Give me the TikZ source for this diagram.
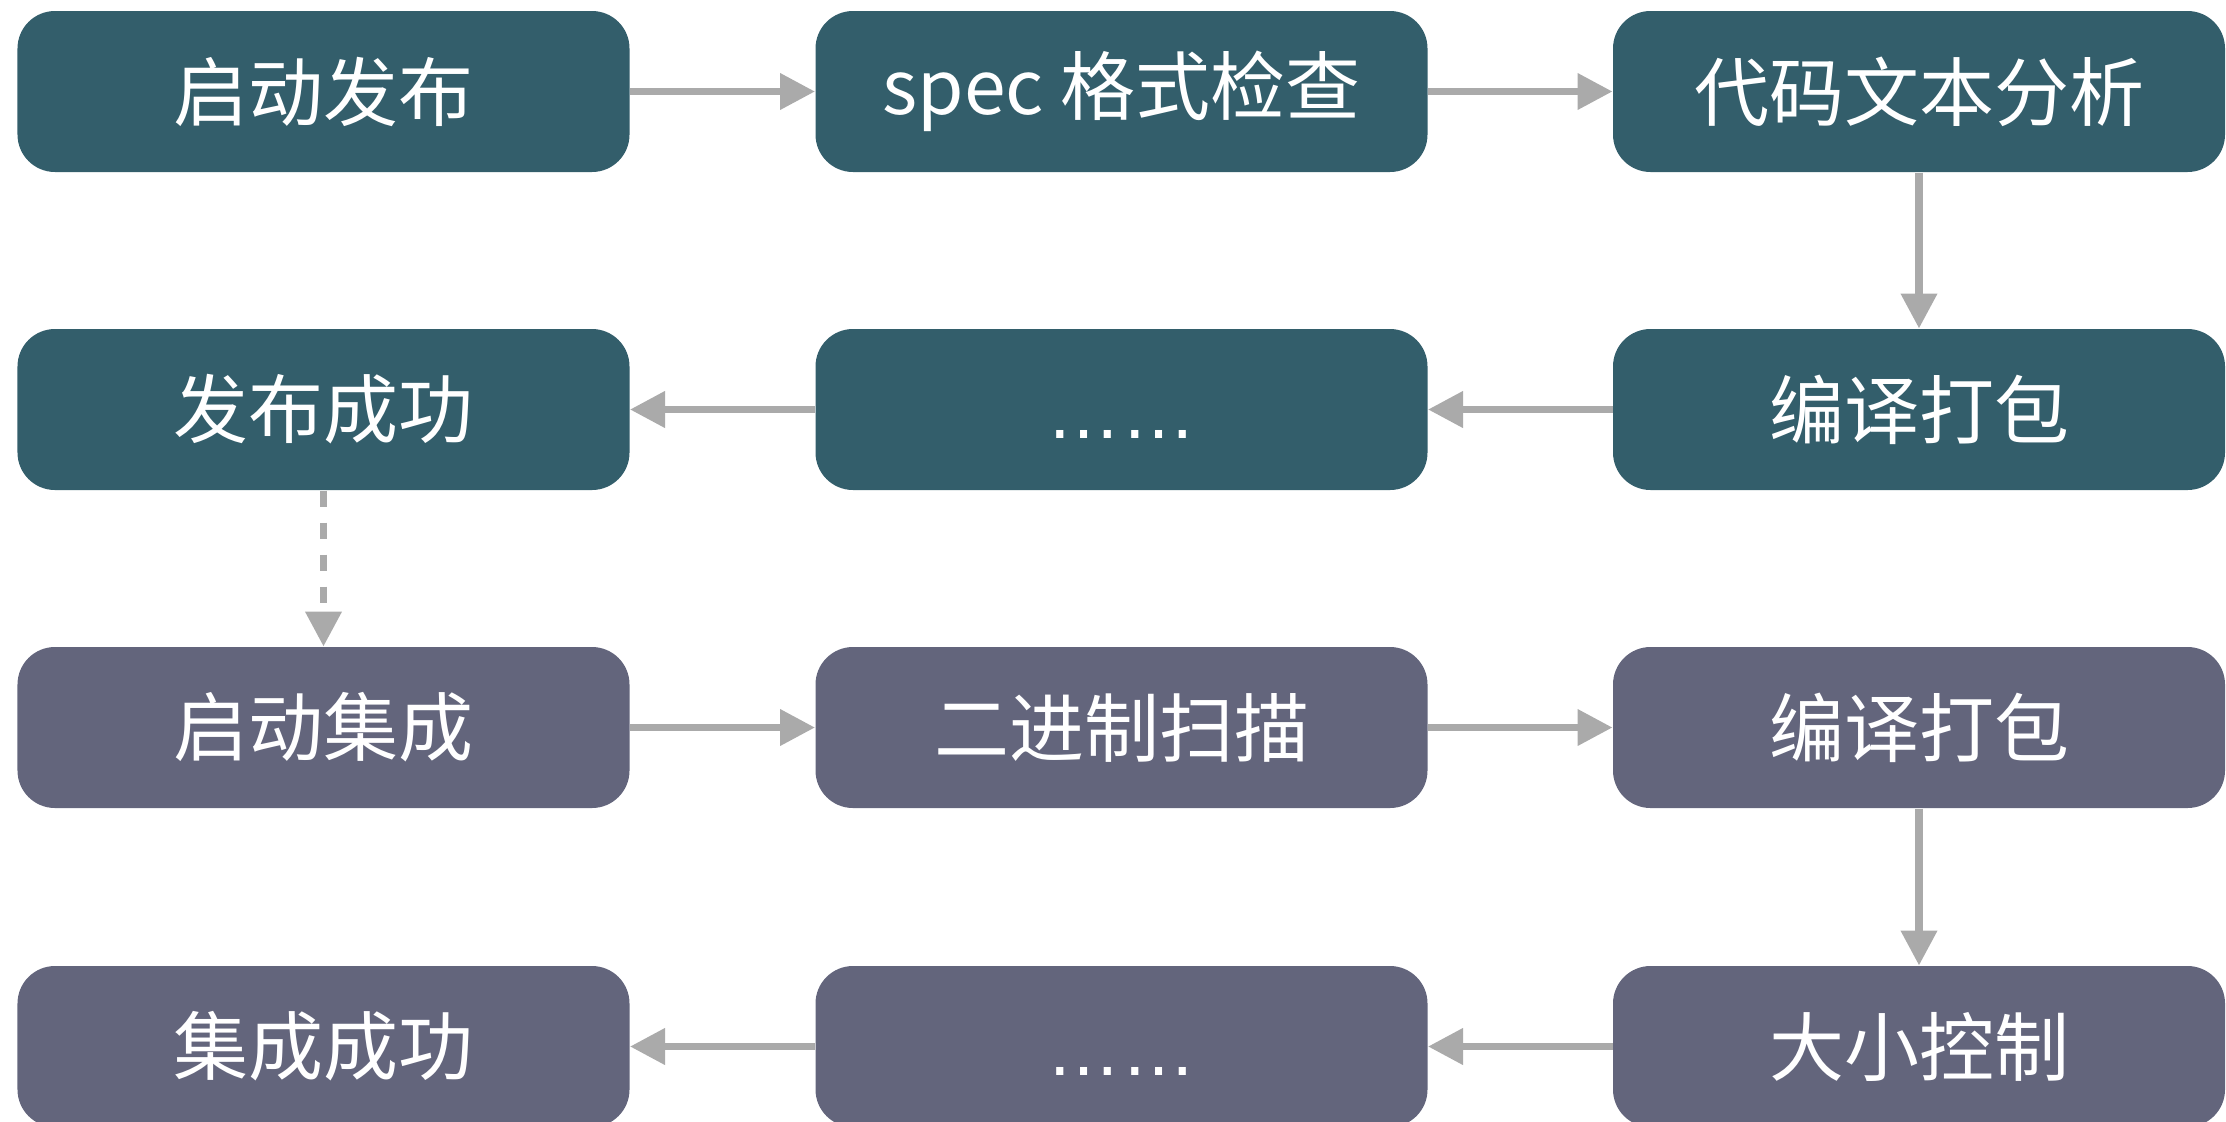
\documentclass[tikz,border=0pt]{standalone}
\usepackage{fontspec}
\setmainfont{Noto Sans CJK SC}
\newfontfamily\dotfont{Liberation Sans}
\usetikzlibrary{arrows.meta}
\definecolor{tealbox}{RGB}{51,94,107}
\definecolor{greybox}{RGB}{99,101,124}
\definecolor{arrowgrey}{RGB}{170,170,170}
\tikzset{
  stepbox/.style={rounded corners=15pt, minimum width=244.8pt, minimum height=64.4pt,
    inner sep=0pt, text=white, font=\fontsize{30pt}{36pt}\selectfont, anchor=center},
  topbox/.style={stepbox, fill=tealbox},
  botbox/.style={stepbox, fill=greybox},
  flow/.style={draw=arrowgrey, line width=2.9pt, -{Triangle[length=14pt,width=14pt]}, arrowgrey},
  flowdash/.style={flow, dash pattern=on 6.4pt off 6.4pt}
}
\newcommand{\ellipsisrow}{\vphantom{发}{\dotfont ……}}
\begin{document}
\begin{tikzpicture}[x=0.4pt,y=-0.4pt]
\useasboundingbox (0,0) rectangle (2226,1121);
% row 1
\node[topbox] (a1) at (323.5,91.5) {启动发布};
\node[topbox] (a2) at (1121.5,91.5) {spec 格式检查};
\node[topbox] (a3) at (1919,91.5) {代码文本分析};
% row 2
\node[topbox] (b3) at (1919,409.5) {编译打包};
\node[topbox] (b2) at (1121.5,409.5) {\ellipsisrow};
\node[topbox] (b1) at (323.5,409.5) {发布成功};
% row 3
\node[botbox] (c1) at (323.5,727.5) {启动集成};
\node[botbox] (c2) at (1121.5,727.5) {二进制扫描};
\node[botbox] (c3) at (1919,727.5) {编译打包};
% row 4
\node[botbox] (d3) at (1919,1046.5) {大小控制};
\node[botbox] (d2) at (1121.5,1046.5) {\ellipsisrow};
\node[botbox] (d1) at (323.5,1046.5) {集成成功};
% connectors
\draw[flow] (a1) -- (a2);
\draw[flow] (a2) -- (a3);
\draw[flow] (a3) -- (b3);
\draw[flow] (b3) -- (b2);
\draw[flow] (b2) -- (b1);
\draw[flowdash] (b1) -- (c1);
\draw[flow] (c1) -- (c2);
\draw[flow] (c2) -- (c3);
\draw[flow] (c3) -- (d3);
\draw[flow] (d3) -- (d2);
\draw[flow] (d2) -- (d1);
\end{tikzpicture}
\end{document}
